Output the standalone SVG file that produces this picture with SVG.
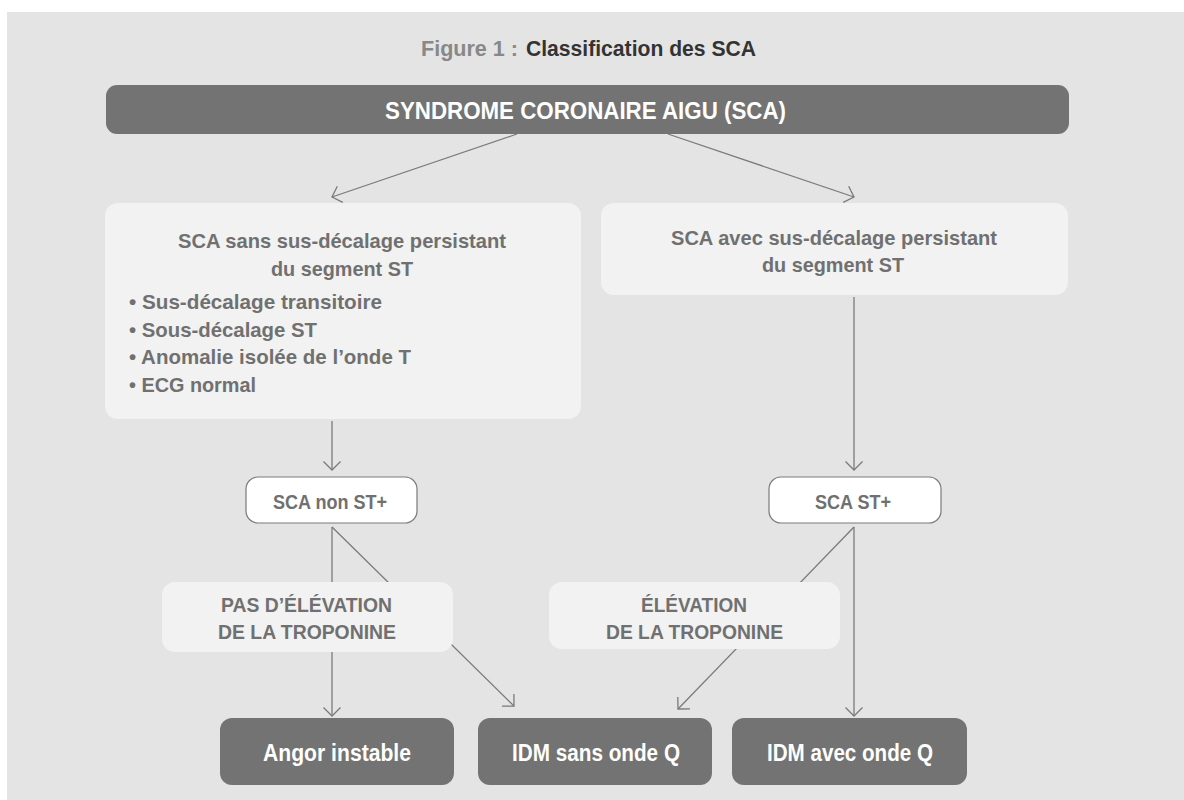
<svg xmlns="http://www.w3.org/2000/svg" width="1184" height="800" viewBox="0 0 1184 800">
  <defs>
    <marker id="arrow" markerUnits="userSpaceOnUse" markerWidth="24" markerHeight="24" refX="12" refY="12" orient="auto" viewBox="0 0 24 24">
      <path d="M3.5,3.5 L12,12 L3.5,20.5" fill="none" stroke="#7a7a7a" stroke-width="1.3"/>
    </marker>
  </defs>
  <style>
    text { font-family: "Liberation Sans", Arial, sans-serif; font-weight: bold; }
    .dark { fill: #737373; }
    .light { fill: #f2f2f2; }
    .pill { fill: #ffffff; stroke: #7a7a7a; stroke-width: 1.2; }
    .t-dark { fill: #ffffff; font-size: 23.5px; }
    .t-light { fill: #707070; font-size: 21px; }
    .t-pill { fill: #707070; font-size: 20px; }
    .conn line { stroke: #7a7a7a; stroke-width: 1.3; fill: none; marker-end: url(#arrow); }
  </style>

  <!-- page background -->
  <rect x="0" y="0" width="1184" height="800" fill="#ffffff"/>
  <rect x="7" y="12" width="1177" height="788" fill="#e4e4e4"/>

  <!-- caption -->
  <g id="title">
    <text x="421" y="56" font-size="22.5" fill="#888888" textLength="97" lengthAdjust="spacingAndGlyphs">Figure 1 :</text>
    <text x="526" y="56" font-size="22.5" fill="#333333" textLength="230" lengthAdjust="spacingAndGlyphs">Classification des SCA</text>
  </g>

  <!-- connectors -->
  <g id="connectors" class="conn">
    <line x1="517" y1="134" x2="332" y2="197"/>
    <line x1="668" y1="134" x2="854" y2="197"/>
    <line x1="332" y1="421" x2="332" y2="470"/>
    <line x1="854" y1="297" x2="854" y2="470"/>
    <line x1="332" y1="527" x2="332" y2="716"/>
    <line x1="332" y1="527" x2="514" y2="706"/>
    <line x1="854" y1="527" x2="854" y2="716"/>
    <line x1="854" y1="527" x2="678" y2="709"/>
  </g>

  <g id="sca">
    <rect class="dark" x="106" y="85" width="963" height="49" rx="11"/>
    <text class="t-dark" x="385" y="119" textLength="401" lengthAdjust="spacingAndGlyphs">SYNDROME CORONAIRE AIGU (SCA)</text>
  </g>

  <g id="sca-sans">
    <rect class="light" x="105" y="203" width="476" height="216" rx="13"/>
    <text class="t-light" x="178" y="248" textLength="328" lengthAdjust="spacingAndGlyphs">SCA sans sus-décalage persistant</text>
    <text class="t-light" x="271" y="276" textLength="142" lengthAdjust="spacingAndGlyphs">du segment ST</text>
    <text class="t-light" x="129" y="309" textLength="253" lengthAdjust="spacingAndGlyphs">• Sus-décalage transitoire</text>
    <text class="t-light" x="129" y="337" textLength="188" lengthAdjust="spacingAndGlyphs">• Sous-décalage ST</text>
    <text class="t-light" x="129" y="364" textLength="282" lengthAdjust="spacingAndGlyphs">• Anomalie isolée de l’onde T</text>
    <text class="t-light" x="129" y="392" textLength="127" lengthAdjust="spacingAndGlyphs">• ECG normal</text>
  </g>

  <g id="sca-avec">
    <rect class="light" x="601" y="203" width="467" height="92" rx="13"/>
    <text class="t-light" x="671" y="245" textLength="326" lengthAdjust="spacingAndGlyphs">SCA avec sus-décalage persistant</text>
    <text class="t-light" x="762" y="272" textLength="142" lengthAdjust="spacingAndGlyphs">du segment ST</text>
  </g>

  <g id="sca-non-st">
    <rect class="pill" x="246" y="477" width="171" height="46" rx="12"/>
    <text class="t-pill" x="273" y="509" textLength="114" lengthAdjust="spacingAndGlyphs">SCA non ST+</text>
  </g>

  <g id="sca-st">
    <rect class="pill" x="769" y="477" width="172" height="46" rx="12"/>
    <text class="t-pill" x="815" y="509" textLength="76" lengthAdjust="spacingAndGlyphs">SCA ST+</text>
  </g>

  <g id="pas-elevation">
    <rect class="light" x="162" y="582" width="291" height="70" rx="13"/>
    <text class="t-light" x="221" y="612" textLength="171" lengthAdjust="spacingAndGlyphs">PAS D’ÉLÉVATION</text>
    <text class="t-light" x="218" y="639" textLength="178" lengthAdjust="spacingAndGlyphs">DE LA TROPONINE</text>
  </g>

  <g id="elevation">
    <rect class="light" x="549" y="582" width="291" height="67" rx="13"/>
    <text class="t-light" x="641" y="612" textLength="106" lengthAdjust="spacingAndGlyphs">ÉLÉVATION</text>
    <text class="t-light" x="606" y="639" textLength="177" lengthAdjust="spacingAndGlyphs">DE LA TROPONINE</text>
  </g>

  <g id="angor">
    <rect class="dark" x="220" y="718" width="234" height="67" rx="12"/>
    <text class="t-dark" x="263" y="761" textLength="148" lengthAdjust="spacingAndGlyphs">Angor instable</text>
  </g>

  <g id="idm-sans">
    <rect class="dark" x="478" y="718" width="234" height="67" rx="12"/>
    <text class="t-dark" x="512" y="761" textLength="168" lengthAdjust="spacingAndGlyphs">IDM sans onde Q</text>
  </g>

  <g id="idm-avec">
    <rect class="dark" x="732" y="718" width="235" height="67" rx="12"/>
    <text class="t-dark" x="767" y="761" textLength="166" lengthAdjust="spacingAndGlyphs">IDM avec onde Q</text>
  </g>
</svg>
